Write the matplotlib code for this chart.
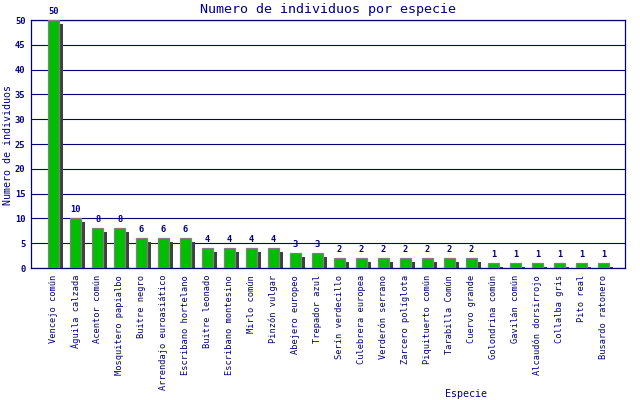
import matplotlib
matplotlib.use("Agg")
import matplotlib.pyplot as plt
from matplotlib.transforms import offset_copy

especies = [
    "Vencejo común", "Águila calzada", "Acentor común", "Mosquitero papialbo",
    "Buitre negro", "Arrendajo euroasiático", "Escribano hortelano",
    "Buitre leonado", "Escribano montesino", "Mirlo común", "Pinzón vulgar",
    "Abejero europeo", "Trepador azul", "Serín verdecillo", "Culebrera europea",
    "Verderón serrano", "Zarcero políglota", "Piquituerto común",
    "Tarabilla Común", "Cuervo grande", "Golondrina común", "Gavilán común",
    "Alcaudón dorsirrojo", "Collalba gris", "Pito real", "Busardo ratonero",
]
individuos = [50, 10, 8, 8, 6, 6, 6, 4, 4, 4, 4, 3, 3,
              2, 2, 2, 2, 2, 2, 2, 1, 1, 1, 1, 1, 1]
y_ticks = [0, 5, 10, 15, 20, 25, 30, 35, 40, 45, 50]

navy = "#000080"
plt.rcParams["font.family"] = ["DejaVu Sans Mono", "DejaVu Sans"]

fig = plt.figure(figsize=(6.4, 4.0), dpi=100)
ax = fig.add_axes([31 / 640, 132 / 400, 594 / 640, 248 / 400])

x = list(range(len(especies)))

# sombra: la misma barra desplazada unos pixeles a la derecha y abajo
shadow = offset_copy(ax.transData, fig=fig, x=4, y=-4, units="dots")
ax.bar(x, individuos, width=0.52, color="#404040", transform=shadow, zorder=2)
ax.bar(x, individuos, width=0.52, color="#00bf00", edgecolor="#808080",
       linewidth=0.9, zorder=3)

for xi, v in zip(x, individuos):
    ax.annotate(str(v), (xi, v), xytext=(0, 4), textcoords="offset pixels",
                ha="center", va="bottom", fontsize=6.3, fontweight="bold",
                color=navy)

ax.set_xlim(-1.03, 25.98)
ax.set_ylim(0, 50)
ax.set_yticks(y_ticks)
ax.set_yticklabels([str(t) for t in y_ticks], fontsize=6.3, fontweight="bold",
                   color=navy)
ax.set_xticks(x)
ax.set_xticklabels(especies, rotation=90, fontsize=6.2, color=navy)
ax.tick_params(axis="both", length=0, pad=4)
ax.tick_params(axis="x", pad=5)

ax.grid(axis="y", color=navy, linewidth=0.8, zorder=1)
ax.set_axisbelow(True)
for s in ax.spines.values():
    s.set_color(navy)
    s.set_linewidth(0.9)

fig.text(328 / 640, 1 - 9 / 400, "Numero de individuos por especie",
         ha="center", va="center", fontsize=9.6, color=navy)
fig.text(8 / 640, 1 - 145 / 400, "Numero de individuos", rotation=90,
         ha="center", va="center", fontsize=7.2, color=navy)
fig.text(466 / 640, 1 - 394 / 400, "Especie", ha="center", va="center",
         fontsize=7.2, color=navy)

fig.savefig("out.png", dpi=100)
